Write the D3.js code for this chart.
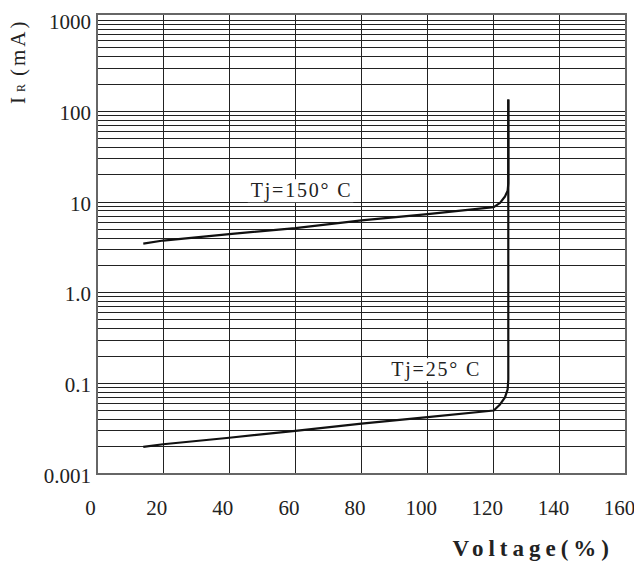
<!DOCTYPE html>
<html>
<head>
<meta charset="utf-8">
<script src="https://cdn.jsdelivr.net/npm/d3@7/dist/d3.min.js"></script>
<style>
  html, body { margin: 0; padding: 0; background: #fff; }
  svg { display: block; }
  text { font-family: "Liberation Serif", "DejaVu Serif", serif; fill: #222; }
</style>
</head>
<body>
<svg id="chart" width="634" height="561"></svg>
<script>
// ---- data ----
const xTicks = [0, 20, 40, 60, 80, 100, 120, 140, 160];
const yTicks = [1000, 100, 10, 1, 0.1, 0.01];
const yTickLabels = ["1000", "100", "10", "1.0", "0.1", "0.001"];

// Tj = 150 °C
const v150 = [14, 20, 40, 60, 80, 100, 120, 121.9, 123.4, 124.2, 124.4, 124.4];
const i150 = [3.48, 3.76, 4.43, 5.15, 6.26, 7.37, 8.8, 9.8, 11.5, 13.3, 16, 135];
// Tj = 25 °C
const v25 = [14, 20, 40, 60, 80, 100, 120, 121.9, 123.4, 124.2, 124.4, 124.4];
const i25 = [0.0199, 0.0213, 0.0251, 0.0299, 0.036, 0.0424, 0.0502, 0.0585, 0.07, 0.0859, 0.11, 135];

const seriesLabels = ["Tj=150° C", "Tj=25° C"];
const labelAnchors = [[46.5, 11.3], [89, 0.12]]; // [voltage, current] where each label starts

// ---- layout ----
const svg = d3.select("#chart");
const L = 97, R = 626, T = 14, B = 474;
const x = d3.scaleLinear().domain([0, 160]).range([L, R]);
const y = d3.scaleLog().domain([0.01, 1000]).range([B, 20.7]);

const g = svg.append("g");

// horizontal grid (log minors)
const hLines = [];
for (let d = -2; d <= 2; d++) {
  for (let k = 1; k <= 9; k++) hLines.push(k * Math.pow(10, d));
}
hLines.push(1000);
g.append("g").selectAll("line").data(hLines.filter(v => v > 0.01)).join("line")
  .attr("x1", L).attr("x2", R)
  .attr("y1", d => y(d)).attr("y2", d => y(d))
  .attr("stroke", "#222").attr("stroke-width", 1)
  .attr("shape-rendering", "crispEdges");

// vertical grid
g.append("g").selectAll("line").data(xTicks.slice(1, -1)).join("line")
  .attr("x1", d => x(d)).attr("x2", d => x(d))
  .attr("y1", T).attr("y2", B)
  .attr("stroke", "#222").attr("stroke-width", 1)
  .attr("shape-rendering", "crispEdges");

// frame
g.append("rect").attr("x", L).attr("y", T).attr("width", R - L).attr("height", B - T)
  .attr("fill", "none").attr("stroke", "#666").attr("stroke-width", 2);

// series labels with white backgrounds
seriesLabels.forEach((s, i) => {
  const [vx, vy] = labelAnchors[i];
  const t = g.append("text").attr("x", x(vx)).attr("y", y(vy))
    .attr("font-size", 20).attr("letter-spacing", 1.8).text(s);
  const bb = t.node().getBBox();
  g.insert("rect", () => t.node())
    .attr("x", bb.x - 3).attr("y", bb.y)
    .attr("width", bb.width + 4).attr("height", bb.height)
    .attr("fill", "#fff");
});

// curves
const line = d3.line().x(d => x(d[0])).y(d => y(d[1]));
[[v150, i150], [v25, i25]].forEach(([vs, is]) => {
  g.append("path").datum(vs.map((v, i) => [v, is[i]]))
    .attr("d", line).attr("fill", "none")
    .attr("stroke", "#111").attr("stroke-width", 2.2)
    .attr("stroke-linejoin", "round");
});

// y axis labels
const ya = svg.append("g").attr("transform", `translate(${L},1.5)`)
  .call(d3.axisLeft(y).tickValues(yTicks).tickFormat((d, i) => yTickLabels[i]).tickSize(0).tickPadding(6));
ya.select(".domain").remove();
ya.selectAll("text").attr("font-size", 21).attr("font-family", "Liberation Serif").attr("fill", "#222");

// x axis labels
const xa = svg.append("g").attr("transform", `translate(0,${B})`)
  .call(d3.axisBottom(x).tickValues(xTicks).tickSize(0).tickPadding(26));
xa.select(".domain").remove();
xa.selectAll("text").attr("font-size", 21).attr("font-family", "Liberation Serif").attr("fill", "#222").attr("dx", -7);

// axis titles
svg.append("text").attr("x", 614).attr("y", 556).attr("text-anchor", "end")
  .attr("font-size", 23).attr("font-weight", "bold").attr("letter-spacing", 5)
  .text("Voltage(%)");

const yt = svg.append("text").attr("transform", "translate(25,104) rotate(-90)")
  .attr("font-size", 21);
yt.append("tspan").text("I");
yt.append("tspan").attr("font-size", 12).attr("dx", 5).text("R");
yt.append("tspan").attr("dx", 8).attr("letter-spacing", 3).text("(mA)");
</script>
</body>
</html>
